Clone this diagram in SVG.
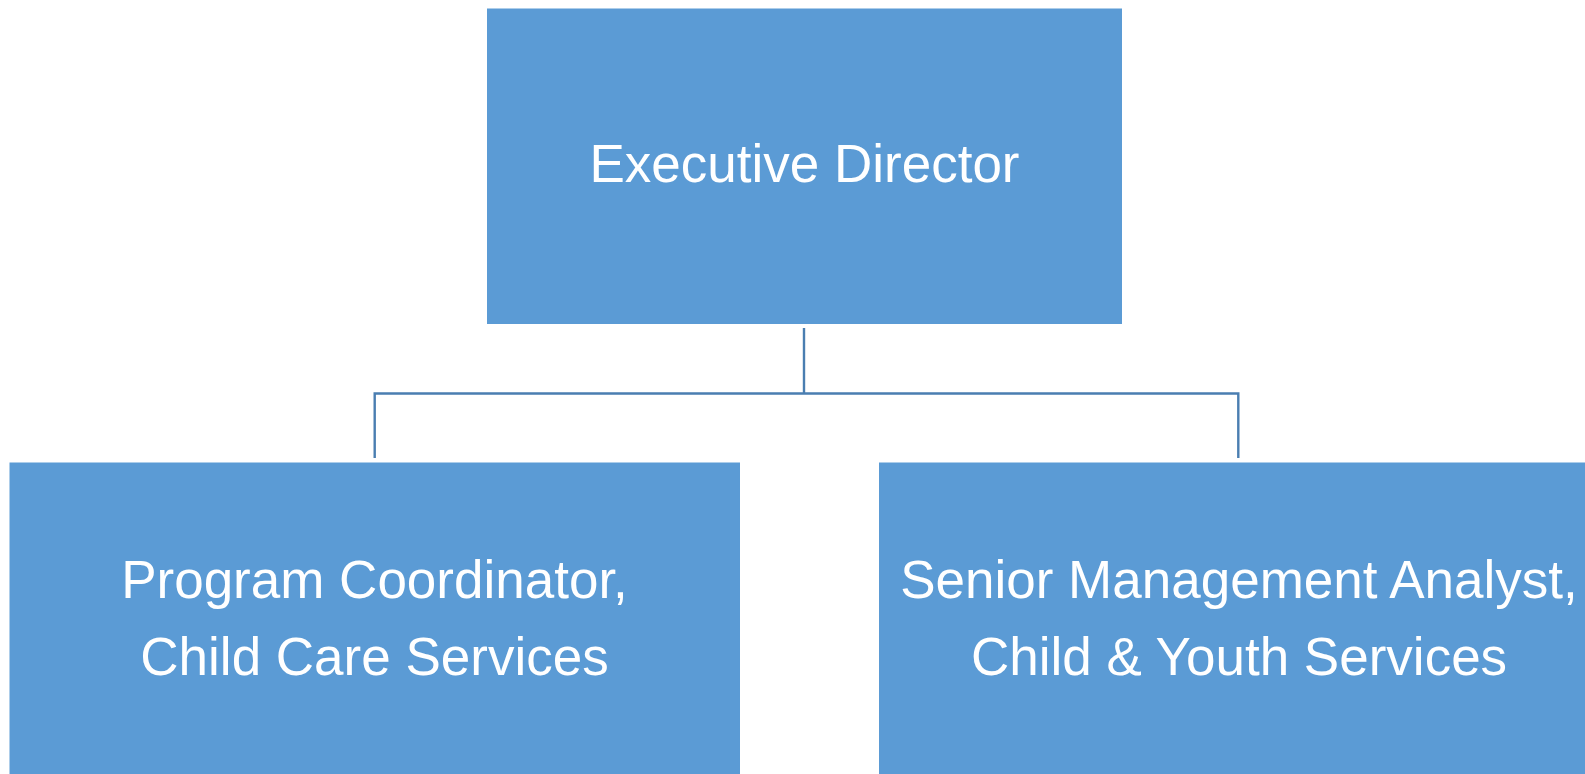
<svg xmlns="http://www.w3.org/2000/svg" width="1585" height="774" viewBox="0 0 1585 774">
<style>
.box{fill:#5B9BD5;}
.lbl{font-family:"Liberation Sans",Arial,sans-serif;font-size:53px;fill:#FFFFFF;text-anchor:middle;}
.conn{fill:none;stroke:#4A7EB1;stroke-width:2.4;}
</style>
<rect width="1585" height="774" fill="#FFFFFF"/>
<g id="connectors">
<path class="conn" d="M804,328 V393.5 M374.7,458 V393.5 H1238.3 V458"/>
</g>
<g id="node-executive-director">
<rect class="box" x="487" y="8.5" width="635" height="315.5"/>
<text class="lbl" x="804.5" y="182">Executive Director</text>
</g>
<g id="node-program-coordinator">
<rect class="box" x="9.5" y="462.5" width="730.5" height="320"/>
<text class="lbl" x="374.5" y="598">Program Coordinator,</text>
<text class="lbl" x="374.5" y="675">Child Care Services</text>
</g>
<g id="node-senior-management-analyst">
<rect class="box" x="879" y="462.5" width="730" height="320"/>
<text class="lbl" x="1239" y="598">Senior Management Analyst,</text>
<text class="lbl" x="1239" y="675">Child &amp; Youth Services</text>
</g>
</svg>
